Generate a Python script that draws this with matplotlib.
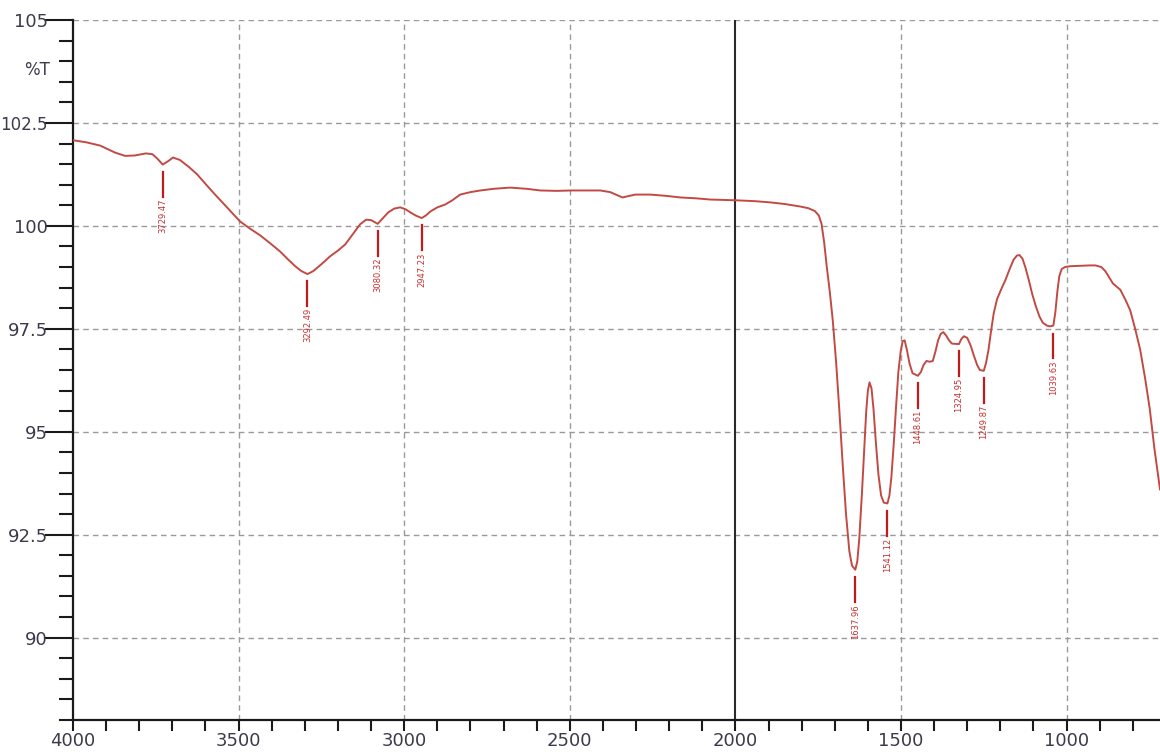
import matplotlib
matplotlib.use("Agg")
import matplotlib.pyplot as plt
from matplotlib.ticker import MultipleLocator, FixedLocator

# ---- data ----
wavenumber = [4000, 3960, 3918, 3873, 3843, 3813, 3780, 3760, 3745, 3729, 3713,
              3698, 3677, 3650, 3625, 3600, 3571, 3535, 3496, 3465, 3435, 3405,
              3375, 3350, 3329, 3310, 3292, 3275, 3260, 3240, 3224, 3200, 3178,
              3155, 3133, 3115, 3100, 3080, 3065, 3048, 3030, 3012, 2995, 2982,
              2965, 2947, 2935, 2921, 2900, 2876, 2855, 2831, 2800, 2770, 2730,
              2680, 2630, 2589, 2540, 2495, 2450, 2408, 2378, 2355, 2341, 2325,
              2302, 2257, 2210, 2166, 2120, 2076, 2035, 1994, 1940, 1894, 1850,
              1804, 1780, 1760, 1748, 1740, 1732, 1724, 1715, 1706, 1696, 1686,
              1676, 1666, 1656, 1648, 1638, 1632, 1626, 1618, 1611, 1605, 1600,
              1595, 1589, 1583, 1576, 1568, 1560, 1552, 1541, 1535, 1529, 1522,
              1515, 1508, 1501, 1495, 1489, 1482, 1474, 1465, 1449, 1440, 1432,
              1423, 1413, 1404, 1396, 1388, 1380, 1372, 1364, 1355, 1346, 1325,
              1318, 1310, 1300, 1290, 1280, 1270, 1262, 1250, 1243, 1236, 1228,
              1220, 1210, 1198, 1185, 1172, 1160, 1150, 1142, 1133, 1124, 1114,
              1104, 1093, 1082, 1072, 1060, 1050, 1040, 1034, 1028, 1022, 1015,
              1005, 990, 960, 930, 913, 895, 883, 860, 838, 822, 808, 793, 778,
              763, 749, 735, 718]
transmittance = [102.08, 102.03, 101.95, 101.78, 101.70, 101.71, 101.76, 101.74,
                 101.63, 101.49, 101.57, 101.66, 101.60, 101.43, 101.25, 101.02,
                 100.76, 100.45, 100.11, 99.93, 99.77, 99.58, 99.38, 99.18, 99.02,
                 98.90, 98.83, 98.90, 99.00, 99.14, 99.26, 99.40, 99.55, 99.80,
                 100.04, 100.15, 100.14, 100.05, 100.18, 100.33, 100.42, 100.45,
                 100.40, 100.33, 100.25, 100.19, 100.25, 100.35, 100.45, 100.52,
                 100.62, 100.76, 100.82, 100.86, 100.90, 100.93, 100.90, 100.86,
                 100.85, 100.86, 100.86, 100.86, 100.82, 100.74, 100.69, 100.72,
                 100.76, 100.76, 100.73, 100.69, 100.67, 100.64, 100.63, 100.62,
                 100.60, 100.57, 100.53, 100.47, 100.43, 100.36, 100.25, 100.05,
                 99.60, 99.00, 98.40, 97.70, 96.70, 95.50, 94.20, 93.00, 92.10,
                 91.75, 91.65, 91.85, 92.40, 93.50, 94.60, 95.50, 96.00, 96.20,
                 96.05, 95.55, 94.75, 93.95, 93.45, 93.28, 93.26, 93.45, 93.90,
                 94.70, 95.60, 96.45, 96.95, 97.20, 97.22, 96.98, 96.65, 96.42,
                 96.36, 96.45, 96.62, 96.72, 96.70, 96.72, 96.95, 97.22, 97.38,
                 97.42, 97.34, 97.22, 97.14, 97.13, 97.25, 97.32, 97.28, 97.10,
                 96.85, 96.62, 96.50, 96.48, 96.68, 96.98, 97.45, 97.88, 98.22,
                 98.45, 98.68, 98.95, 99.18, 99.28, 99.29, 99.20, 98.98, 98.68,
                 98.35, 98.05, 97.80, 97.65, 97.58, 97.56, 97.58, 97.90, 98.40,
                 98.78, 98.95, 99.00, 99.02, 99.03, 99.04, 99.04, 99.00, 98.90,
                 98.60, 98.45, 98.20, 97.95, 97.50, 97.00, 96.30, 95.56, 94.60,
                 93.60]

peak_positions = [3729.47, 3292.49, 3080.32, 2947.23, 1637.96, 1541.12,
                  1448.61, 1324.95, 1249.87, 1039.63]
peak_values = [101.49, 98.83, 100.05, 100.19, 91.65, 93.26, 96.36, 97.13,
               96.48, 97.56]
peak_labels = ["3729.47", "3292.49", "3080.32", "2947.23", "1637.96", "1541.12",
               "1448.61", "1324.95", "1249.87", "1039.63"]

y_major = [90, 92.5, 95, 97.5, 100, 102.5, 105]
y_labels = ["90", "92.5", "95", "97.5", "100", "102.5", "105"]
x_major = [4000, 3500, 3000, 2500, 2000, 1500, 1000]
x_labels = ["4000", "3500", "3000", "2500", "2000", "1500", "1000"]

# ---- figure ----
W, H = 1160, 754
fig = plt.figure(figsize=(W / 100, H / 100), dpi=100)
ax = fig.add_axes([73 / W, 1 - 720 / H, 1 - 73 / W, (720 - 20) / H])
ax.set_xlim(4000, 718)
ax.set_ylim(88, 105)

label_color = "#3b3b4c"
font = "DejaVu Sans"

# grid lines
grid_kw = dict(color="#9a9a9a", lw=1.0, ls=(0, (4, 3)), zorder=1)
for x in [3500, 3000, 2500, 1500, 1000]:
    ax.axvline(x, **grid_kw)
for y in y_major:
    ax.axhline(y, **grid_kw)
ax.axvline(2000, color="#2a2a2a", lw=1.5, zorder=2)

# spectrum
ax.plot(wavenumber, transmittance, color="#c24a44", lw=1.4, zorder=3,
        solid_joinstyle="round")

# peak markers
for xp, yp, lab in zip(peak_positions, peak_values, peak_labels):
    ax.plot([xp, xp], [yp - 0.18, yp - 0.78], color="#c21a1a", lw=1.6, zorder=4)
    ax.text(xp, yp - 0.83, lab, rotation=90, ha="center", va="top",
            fontsize=6, color="#c83030", family=font, zorder=4)

# spines
for s in ["top", "right"]:
    ax.spines[s].set_visible(False)
for s in ["left", "bottom"]:
    ax.spines[s].set_linewidth(1.6)
    ax.spines[s].set_color("#1a1a1a")

# ticks
ax.yaxis.set_major_locator(FixedLocator(y_major))
ax.set_yticklabels(y_labels)
ax.yaxis.set_minor_locator(MultipleLocator(0.5))
ax.xaxis.set_major_locator(FixedLocator(x_major))
ax.set_xticklabels(x_labels)
ax.xaxis.set_minor_locator(MultipleLocator(100))
ax.tick_params(axis="y", which="major", direction="out", length=20, width=1.5,
               color="#1a1a1a", labelsize=13, labelcolor=label_color, pad=-2)
ax.tick_params(axis="y", which="minor", direction="out", length=10, width=1.5,
               color="#1a1a1a")
ax.tick_params(axis="x", which="both", direction="out", length=8, width=1.5,
               color="#1a1a1a", labelsize=13, labelcolor=label_color, pad=1)
for lab in ax.get_xticklabels() + ax.get_yticklabels():
    lab.set_family(font)
for lab in ax.get_yticklabels():
    if lab.get_text() == "102.5":
        lab.set_fontsize(12)

fig.text(50 / W, 1 - 70 / H, "%T", ha="right", va="center", fontsize=12,
         color=label_color, family=font)

fig.savefig("out.png", dpi=100)
